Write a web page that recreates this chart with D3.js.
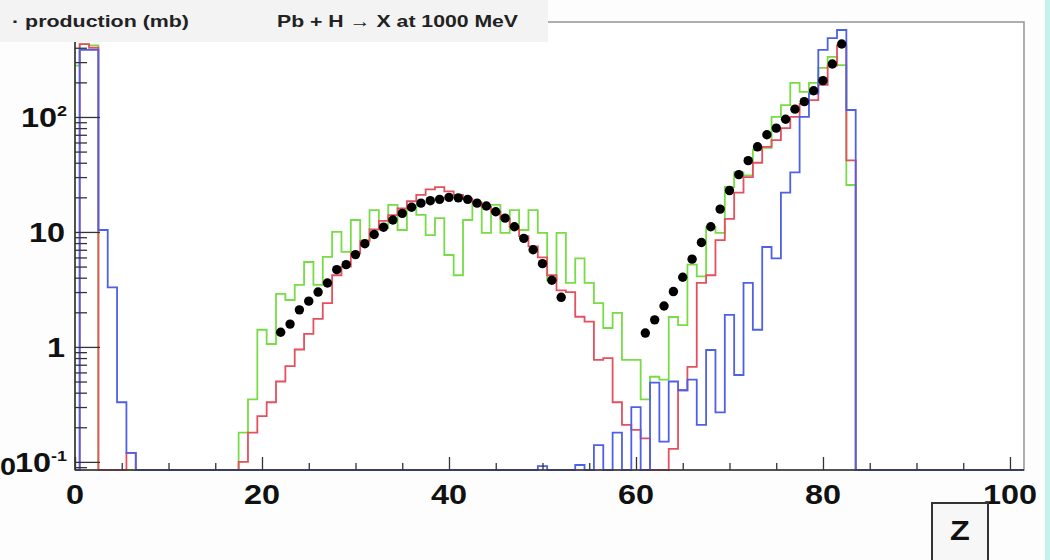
<!DOCTYPE html>
<html>
<head>
<meta charset="utf-8">
<script src="https://cdn.jsdelivr.net/npm/d3@7"></script>
<style>
  body { margin: 0; background: #fdfdfd; }
  svg { display: block; }
</style>
</head>
<body>
<svg id="chart" width="1050" height="560"></svg>
<script>
// Isotope production cross sections (mb) per charge Z, bins Z = 0..84 (higher bins empty)
const greenCalc = [
  280, 430, 420, 0, 0, 0, 0, 0, 0, 0, 0, 0, 0, 0, 0, 0, 0, 0,
  0.18, 0.35, 1.41, 1.06, 2.89, 2.56, 3.46, 5.48, 3.46, 6.06, 10, 6.7,
  12.7, 8.5, 15.5, 10.8, 17.2, 10.4, 17.2, 14.1, 9.4, 13.2,
  6.3, 4.2, 12.7, 17.2, 9.8, 17.2, 9.8, 15.5, 10.4, 15.5,
  9.8, 3.8, 9.8, 3.6, 5.9, 3.6, 2.4, 1.46, 1.98, 0.77,
  0.77, 0.35, 0.55, 0.52, 1.82, 1.55, 5.2, 4.1, 11, 9.8,
  24.6, 33, 31, 52, 54, 100, 127, 198, 165, 198,
  267, 333, 283, 25.6, 0
];
const redCalc = [
  0, 430, 400, 0, 0, 0, 0.12, 0, 0, 0, 0, 0, 0, 0, 0, 0, 0, 0,
  0.1, 0.18, 0.25, 0.33, 0.5, 0.68, 0.95, 1.3, 1.75, 2.4, 4.2, 5.0,
  6.5, 8.3, 10.5, 12.5, 14, 16, 18.5, 21, 23.5, 24.5,
  22.5, 21, 19.5, 18, 16.5, 15, 13, 11, 9.2, 7.5,
  6.0, 4.2, 3.1, 3.0, 1.83, 1.66, 0.77, 0.80, 0.33, 0.21,
  0.19, 0.16, 0, 0, 0.13, 0.42, 0.67, 3.6, 4.2, 8.5,
  13, 22, 30, 40, 55, 63, 80, 100, 130, 140,
  190, 280, 420, 42, 0
];
const blueCalc = [
  0, 383, 383, 10.4, 3.3, 0.33, 0.12, 0, 0, 0, 0, 0, 0, 0, 0, 0, 0, 0,
  0, 0, 0, 0, 0, 0, 0, 0, 0, 0, 0, 0,
  0, 0, 0, 0, 0, 0, 0, 0, 0, 0,
  0, 0, 0, 0, 0, 0, 0, 0, 0, 0,
  0.092, 0, 0, 0, 0.094, 0, 0.14, 0, 0.18, 0,
  0.30, 0, 0.49, 0.15, 0.50, 0.42, 0.52, 0.21, 0.94, 0.27,
  1.9, 0.57, 3.6, 1.41, 7.4, 5.9, 22, 33, 100, 160,
  383, 486, 571, 115, 0
];
// Measured points: spallation region and fission region
const dataLowZ0 = 22;
const dataLow = [1.34, 1.58, 2.1, 2.5, 3.0, 3.6, 4.7, 5.2, 6.35, 7.9, 9.5, 11, 12.7, 14.5, 16.4,
  17.8, 18.7, 19.2, 20, 19.8, 19.2, 17.8, 16.8, 15, 13.2, 11.1, 8.8, 7, 5.3, 3.8, 2.7];
const dataHighZ0 = 61;
const dataHigh = [1.32, 1.72, 2.27, 3.03, 4.04, 5.8, 8.1, 11.1, 15.8, 22.9, 31.5, 41.7, 55, 70,
  80, 95.5, 117, 136, 169, 207, 289, 431];

const xMajorTicks = [0, 20, 40, 60, 80, 100];
const yMajorTicks = [0.1, 1, 10, 100];
const yTickLabels = [["10", "-1"], ["1", ""], ["10", ""], ["10", "2"]];
const titleText = "Pb + H \u2192 X at 1000 MeV";
const yTitleText = "\u00b7 production (mb)";
const xTitleText = "Z";

(function draw() {
  const svg = d3.select("#chart");
  const pL = 75, pR = 1024, pT = 22, pB = 470;
  const zMax = 101.5, yMin = 0.085, yMax = 670;
  const labelFont = "'Liberation Sans', Arial, sans-serif";
  const stretch = 1.2;

  const x = d3.scaleLinear().domain([0, zMax]).range([pL, pR]);
  const y = d3.scaleLog().domain([yMin, yMax]).range([pB, pT]);

  // page edge tint
  svg.append("rect").attr("x", 1045).attr("y", 0).attr("width", 5).attr("height", 560).attr("fill", "#c4f3ec");

  // plot area
  svg.append("rect").attr("x", pL).attr("y", pT).attr("width", pR - pL).attr("height", pB - pT)
    .attr("fill", "#ffffff").attr("stroke", "#9a9a9a").attr("stroke-width", 1.6);

  svg.append("clipPath").attr("id", "plotClip").append("rect")
    .attr("x", pL).attr("y", pT).attr("width", pR - pL).attr("height", pB - pT + 2);

  const plot = svg.append("g").attr("clip-path", "url(#plotClip)");

  function histPoints(vals) {
    const pts = [[x(0), pB]];
    for (let z = 0; z <= 101; z++) {
      const v = z < vals.length ? vals[z] : 0;
      const yy = v > yMin ? y(Math.min(v, yMax)) : pB;
      pts.push([x(Math.max(0, z - 0.5)), yy], [x(Math.min(zMax, z + 0.5)), yy]);
    }
    return pts;
  }
  const line = d3.line();

  // axis base line
  svg.append("line").attr("x1", pL).attr("x2", pR).attr("y1", pB).attr("y2", pB)
    .attr("stroke", "#333").attr("stroke-width", 1.5);

  const series = [
    { vals: greenCalc, color: "#78dc46" },
    { vals: redCalc, color: "#e4505e" },
    { vals: blueCalc, color: "#4e60e6" }
  ];
  series.forEach(s => {
    plot.append("path").attr("d", line(histPoints(s.vals)))
      .attr("fill", "none").attr("stroke", s.color).attr("stroke-width", 1.8)
      .attr("stroke-linejoin", "miter");
  });

  // y axis ticks (inside the frame)
  const yMinor = [];
  [0.01, 0.1, 1, 10, 100].forEach(d => { for (let k = 2; k <= 9; k++) { const v = k * d; if (v >= yMin && v <= yMax) yMinor.push(v); } });
  const yAxisMinor = svg.append("g").attr("transform", `translate(${pL},0)`)
    .call(d3.axisRight(y).tickValues(yMinor).tickSize(12).tickFormat(""));
  const yAxisMajor = svg.append("g").attr("transform", `translate(${pL},0)`)
    .call(d3.axisRight(y).tickValues(yMajorTicks).tickSize(25).tickFormat(""));
  [yAxisMinor, yAxisMajor].forEach(g => {
    g.select(".domain").remove();
    g.selectAll("line").attr("stroke", "#333").attr("stroke-width", 1.3);
  });
  svg.append("line").attr("x1", pL).attr("x2", pL).attr("y1", pT).attr("y2", pB)
    .attr("stroke", "#333").attr("stroke-width", 1.5);

  // x axis ticks
  const xMinor = d3.range(0, 101, 5).filter(v => v % 20 !== 0);
  const xAxisMinor = svg.append("g").attr("transform", `translate(0,${pB})`)
    .call(d3.axisTop(x).tickValues(xMinor).tickSize(7).tickFormat(""));
  const xAxisMajor = svg.append("g").attr("transform", `translate(0,${pB})`)
    .call(d3.axisTop(x).tickValues(xMajorTicks).tickSize(13).tickFormat(""));
  [xAxisMinor, xAxisMajor].forEach(g => {
    g.select(".domain").remove();
    g.selectAll("line").attr("stroke", "#333").attr("stroke-width", 1.3);
  });

  // measured points
  const dots = dataLow.map((v, i) => ({ z: dataLowZ0 + i, v }))
    .concat(dataHigh.map((v, i) => ({ z: dataHighZ0 + i, v })));
  plot.selectAll("circle.pt").data(dots).join("circle").attr("class", "pt")
    .attr("cx", d => x(d.z)).attr("cy", d => y(d.v)).attr("r", 4.7).attr("fill", "#000");

  // tick labels (wide bold face)
  function wideText(px, py, anchor, size) {
    return svg.append("text").attr("transform", `translate(${px},${py}) scale(${stretch},1)`)
      .attr("text-anchor", anchor).attr("font-family", labelFont).attr("font-weight", "bold")
      .attr("font-size", size).attr("fill", "#111");
  }
  xMajorTicks.forEach(t => wideText(x(t), 504, "middle", 27).text(t));

  yMajorTicks.forEach((t, i) => {
    const [base, sup] = yTickLabels[i];
    const txt = wideText(sup ? 67 : 65, y(t) + 10, "end", 27);
    txt.append("tspan").text(base);
    if (sup) txt.append("tspan").attr("dy", -11).attr("font-size", 15).text(sup);
  });
  wideText(16, y(0.1) + 13, "end", 24).text("00");

  // title bar
  svg.append("rect").attr("x", 0).attr("y", 0).attr("width", 548).attr("height", 42).attr("fill", "#f3f3f3");
  svg.append("text").attr("x", 12).attr("y", 27).attr("textLength", 177).attr("lengthAdjust", "spacingAndGlyphs")
    .attr("font-family", labelFont).attr("font-weight", "bold").attr("font-size", 17).attr("fill", "#222")
    .text(yTitleText);
  svg.append("text").attr("x", 277).attr("y", 27).attr("textLength", 241).attr("lengthAdjust", "spacingAndGlyphs")
    .attr("font-family", labelFont).attr("font-weight", "bold").attr("font-size", 17).attr("fill", "#222")
    .text(titleText);

  // axis title box
  svg.append("rect").attr("x", 932).attr("y", 503).attr("width", 56).attr("height", 60)
    .attr("fill", "#f7f7f7").attr("stroke", "#333").attr("stroke-width", 2);
  wideText(960, 540, "middle", 27).text(xTitleText);
})();
</script>
</body>
</html>
